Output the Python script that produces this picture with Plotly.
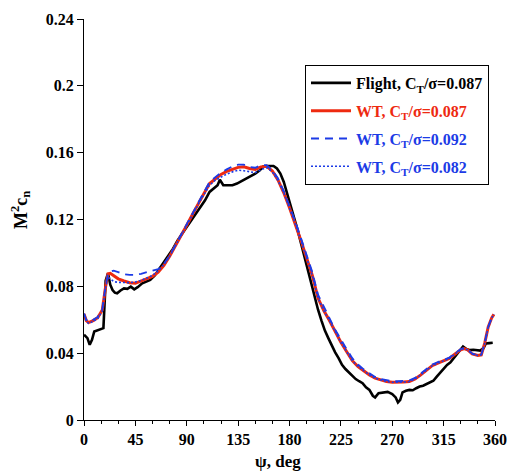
import plotly.graph_objects as go

# Azimuthal variation of normal-force loading M^2 c_n
psi_flight = [0, 3, 5, 7, 9, 13, 17, 19, 21, 23, 25, 27, 29, 32, 35, 38, 41, 44, 47,
              51, 55, 58, 62, 66, 70, 74, 78, 82, 86, 90, 94, 98, 102, 106, 110, 114, 117,
              119, 122, 126, 130, 134, 138, 142, 146, 150, 154, 157, 160, 163, 166, 169,
              172, 175, 178, 181, 184, 187, 190, 193, 196, 199, 202, 205, 208, 211, 214, 217,
              220, 223, 226, 229, 232, 235, 238, 241, 244, 247, 250, 253, 255, 258, 262, 266,
              270, 273, 275, 277, 279, 282, 285, 288, 291, 294, 297, 300, 303, 306, 309, 312,
              315, 318, 321, 324, 327, 330, 332, 335, 338, 341, 344, 347, 350, 352, 355, 358]
cn_flight = [0.051, 0.049, 0.045, 0.048, 0.053, 0.054, 0.055, 0.0835, 0.0878, 0.081, 0.0778,
             0.0762, 0.0758, 0.0775, 0.0788, 0.0785, 0.0798, 0.0782, 0.0795, 0.0818, 0.0828,
             0.0838, 0.0865, 0.0905, 0.094, 0.098, 0.1025, 0.1075, 0.1115, 0.1155, 0.119,
             0.1235, 0.1275, 0.1315, 0.1365, 0.1385, 0.1405, 0.1438, 0.1405, 0.1405, 0.1405,
             0.1415, 0.143, 0.1445, 0.1455, 0.1475, 0.1495, 0.1518, 0.152, 0.152, 0.152,
             0.1505, 0.1475, 0.1425, 0.1355, 0.129, 0.1215, 0.114, 0.106, 0.098, 0.0895,
             0.0805, 0.0725, 0.066, 0.0595, 0.0535, 0.049, 0.0445, 0.0405, 0.037, 0.033,
             0.0305, 0.0285, 0.0265, 0.0245, 0.0232, 0.022, 0.0195, 0.018, 0.0145, 0.0135,
             0.016, 0.0165, 0.0168, 0.0155, 0.0135, 0.0105, 0.012, 0.0165, 0.0175, 0.018,
             0.0178, 0.019, 0.02, 0.0205, 0.0215, 0.022, 0.0235, 0.026, 0.0285, 0.031, 0.033,
             0.0345, 0.037, 0.040, 0.0425, 0.044, 0.0425, 0.0418, 0.042, 0.0418, 0.0415, 0.043,
             0.0458, 0.046, 0.0462]

psi_wt = [0, 2, 4, 8, 12, 16, 19, 21, 23, 26, 30, 35, 40, 45, 50, 55, 60, 65, 70, 75, 80, 85,
          90, 95, 100, 105, 110, 115, 120, 125, 130, 135, 140, 145, 150, 155, 160, 165, 170,
          175, 180, 185, 190, 195, 200, 205, 210, 215, 220, 225, 230, 235, 240, 245, 250, 255,
          260, 265, 270, 275, 280, 285, 290, 295, 300, 305, 310, 315, 320, 325, 330, 333, 336,
          340, 345, 348, 351, 354, 357, 359]

cn_wt_087 = [0.0635, 0.0595, 0.0583, 0.0595, 0.0612, 0.0658, 0.080, 0.0875, 0.0878, 0.0862,
             0.0845, 0.0832, 0.0822, 0.0818, 0.0832, 0.0845, 0.086, 0.0885, 0.0925, 0.098,
             0.104, 0.1105, 0.1165, 0.123, 0.1295, 0.1355, 0.1415, 0.1445, 0.147, 0.1488,
             0.150, 0.1512, 0.1515, 0.1505, 0.150, 0.1515, 0.1518, 0.149, 0.1435, 0.136, 0.127,
             0.1175, 0.1075, 0.097, 0.0865, 0.073, 0.0655, 0.0595, 0.0525, 0.0465, 0.041,
             0.0355, 0.032, 0.0293, 0.027, 0.025, 0.0238, 0.023, 0.0226, 0.0225, 0.0227, 0.023,
             0.0245, 0.027, 0.030, 0.0325, 0.034, 0.0355, 0.0368, 0.0395, 0.042, 0.0428, 0.042,
             0.0395, 0.0386, 0.039, 0.046, 0.0555, 0.061, 0.0632]

cn_wt_092 = [0.0638, 0.06, 0.0588, 0.06, 0.0617, 0.0662, 0.0805, 0.0878, 0.0888, 0.0894,
             0.0885, 0.0872, 0.0868, 0.0868, 0.0875, 0.0885, 0.0893, 0.0903, 0.0935, 0.0985,
             0.1045, 0.111, 0.117, 0.1235, 0.1302, 0.1363, 0.1425, 0.1455, 0.148, 0.15,
             0.1518, 0.1528, 0.1528, 0.1515, 0.151, 0.1525, 0.1525, 0.1495, 0.1445, 0.137,
             0.1282, 0.119, 0.109, 0.0985, 0.0885, 0.075, 0.0675, 0.061, 0.054, 0.048, 0.0425,
             0.037, 0.0332, 0.0303, 0.0278, 0.0258, 0.0245, 0.0237, 0.0232, 0.0232, 0.0233,
             0.0237, 0.0252, 0.0278, 0.0308, 0.0332, 0.0347, 0.036, 0.0373, 0.04, 0.0425, 0.0432,
             0.0422, 0.0398, 0.0386, 0.039, 0.046, 0.0555, 0.061, 0.0632]

cn_wt_082 = [0.0628, 0.059, 0.0578, 0.059, 0.0607, 0.0652, 0.0795, 0.0855, 0.0845, 0.0828,
             0.0824, 0.0822, 0.0822, 0.0826, 0.0835, 0.085, 0.0865, 0.0892, 0.093, 0.098,
             0.104, 0.1105, 0.1165, 0.1228, 0.1292, 0.135, 0.1405, 0.1435, 0.1455, 0.1472,
             0.1485, 0.1495, 0.1492, 0.1485, 0.148, 0.1498, 0.151, 0.1485, 0.1432, 0.136,
             0.127, 0.1175, 0.1075, 0.097, 0.0865, 0.073, 0.0655, 0.0595, 0.0525, 0.0465, 0.041,
             0.0355, 0.032, 0.0293, 0.027, 0.025, 0.0238, 0.023, 0.0226, 0.0225, 0.0227, 0.023,
             0.0245, 0.027, 0.030, 0.0325, 0.034, 0.0355, 0.0368, 0.0395, 0.042, 0.0428, 0.042,
             0.0395, 0.0386, 0.039, 0.046, 0.0555, 0.061, 0.0632]

x_ticks = [0, 45, 90, 135, 180, 225, 270, 315, 360]
y_ticks = [0, 0.04, 0.08, 0.12, 0.16, 0.2, 0.24]

BLACK = "#000000"
RED = "#ee2a10"
BLUE = "#1c3be6"
FONT = "Liberation Serif"


def legend_name(label, value, color):
    return (f'<span style="color:{color}"><b>{label}, C<sub>T</sub>/σ={value}</b></span>')


fig = go.Figure()
fig.add_trace(go.Scatter(x=psi_flight, y=cn_flight, mode="lines",
                         line=dict(color=BLACK, width=2.6),
                         name=legend_name("Flight", "0.087", BLACK), legendgroup="a"))
fig.add_trace(go.Scatter(x=psi_wt, y=cn_wt_087, mode="lines",
                         line=dict(color=RED, width=3),
                         name=legend_name("WT", "0.087", RED), legendgroup="b"))
fig.add_trace(go.Scatter(x=psi_wt, y=cn_wt_092, mode="lines",
                         line=dict(color=BLUE, width=1.8, dash="8px,6px"),
                         name=legend_name("WT", "0.092", BLUE), legendgroup="c"))
fig.add_trace(go.Scatter(x=psi_wt, y=cn_wt_082, mode="lines",
                         line=dict(color=BLUE, width=1.6, dash="2px,2px"),
                         name=legend_name("WT", "0.082", BLUE), legendgroup="d"))

fig.update_layout(
    width=507, height=475,
    margin=dict(l=84, r=12, t=19, b=55, autoexpand=False),
    plot_bgcolor="white", paper_bgcolor="white",
    font=dict(family=FONT, size=15, color="black"),
    showlegend=True,
    legend=dict(x=(305 - 84) / 411, y=(420 - 65) / 401, xanchor="left", yanchor="top",
                bordercolor="black", borderwidth=1, bgcolor="white",
                font=dict(family=FONT, size=16), tracegroupgap=4,
                itemwidth=40),
    xaxis=dict(range=[0, 360], tickvals=x_ticks, ticks="outside", ticklen=5,
               tickwidth=1, tickcolor="black", showline=True, linecolor="black",
               linewidth=1, showgrid=False, zeroline=False, automargin=False,
               tickfont=dict(family=FONT, size=16, weight="bold"),
               minor=dict(dtick=15, ticks="outside", ticklen=3, tickcolor="black")),
    yaxis=dict(range=[0, 0.24], tickvals=y_ticks, ticks="outside", ticklen=6,
               tickwidth=1, tickcolor="black", showline=True, linecolor="black",
               linewidth=1, showgrid=False, zeroline=False, automargin=False,
               tickfont=dict(family=FONT, size=16, weight="bold")),
    annotations=[
        dict(text="<b>ψ, deg</b>", x=(278 - 84) / 411, y=-(462 - 420) / 401,
             xref="paper", yref="paper", showarrow=False,
             font=dict(family=FONT, size=17), xanchor="center", yanchor="middle"),
        dict(text="<b>M<sup>2</sup>c<sub>n</sub></b>", x=-(84 - 20) / 411,
             y=(420 - 210) / 401, xref="paper", yref="paper", showarrow=False,
             textangle=-90, font=dict(family=FONT, size=18),
             xanchor="center", yanchor="middle"),
    ],
)

fig.write_html("out.html")
